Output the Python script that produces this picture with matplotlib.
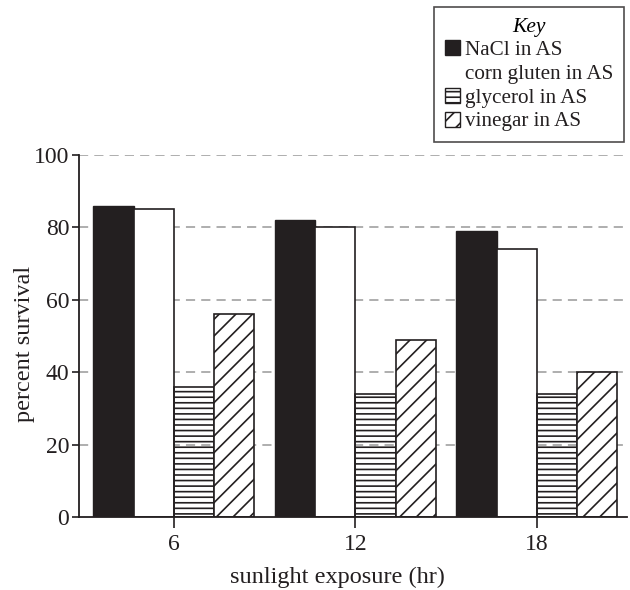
import matplotlib
matplotlib.use('Agg')
import matplotlib.pyplot as plt
from matplotlib.patches import Rectangle
import numpy as np

plt.rcParams['font.family'] = ['Liberation Serif', 'DejaVu Serif']
plt.rcParams['hatch.linewidth'] = 1.2

hours = ['6', '12', '18']
nacl = [86, 82, 79]
corn = [85, 80, 74]
glycerol = [36, 34, 34]
vinegar = [56, 49, 40]

series_names = ['NaCl in AS', 'corn gluten in AS', 'glycerol in AS', 'vinegar in AS']

fig = plt.figure(figsize=(6.3, 5.9), dpi=100)
ax = fig.add_axes([0.1254, 0.1237, 0.8696, 0.6136])

x = np.arange(len(hours))
w = 0.222
ink = '#231f20'

for yv in [20, 40, 60, 80, 100]:
    ax.axhline(yv, color='#999999', lw=1.1, dashes=(6, 4), zorder=0)

ax.bar(x - 1.5 * w, nacl, w, color=ink, edgecolor=ink, lw=1, zorder=2)
ax.bar(x - 0.5 * w, corn, w, color='white', edgecolor=ink, lw=1.2, zorder=2)
ax.bar(x + 0.5 * w, glycerol, w, facecolor='none', edgecolor=ink, hatch='---', lw=1.2, zorder=2)
ax.bar(x + 1.5 * w, vinegar, w, color='white', edgecolor=ink, hatch='//', lw=1.2, zorder=2)

ax.set_xlim(-0.523, 2.496)
ax.set_ylim(0, 100)
ax.set_xticks(x)
ax.set_xticklabels(hours)
ax.set_yticks([0, 20, 40, 60, 80, 100])
ax.tick_params(axis='both', labelsize=17, color=ink, labelcolor=ink, width=1.2)
ax.tick_params(axis='x', length=8, pad=4)
ax.tick_params(axis='y', length=5, pad=2)
for s in ['top', 'right']:
    ax.spines[s].set_visible(False)
for s in ['left', 'bottom']:
    ax.spines[s].set_linewidth(1.3)
    ax.spines[s].set_color(ink)

ax.set_xlabel('sunlight exposure (hr)', fontsize=17.5, color=ink)
ax.set_ylabel('percent survival', fontsize=17.5, color=ink)
ax.xaxis.set_label_coords(0.471, -0.138)
ax.yaxis.set_label_coords(-0.080, 0.479)

handles = [
    Rectangle((0, 0), 1, 1, facecolor=ink, edgecolor=ink),
    Rectangle((0, 0), 1, 1, facecolor='white', edgecolor='white'),
    Rectangle((0, 0), 1, 1, facecolor='white', edgecolor=ink, hatch='---'),
    Rectangle((0, 0), 1, 1, facecolor='white', edgecolor=ink, hatch='//'),
]
leg = fig.legend(handles, series_names, loc='upper right',
                 bbox_to_anchor=(0.9905, 0.988), frameon=True, fancybox=False,
                 edgecolor=ink, fontsize=15.2, title='Key',
                 title_fontproperties={'style': 'italic', 'size': 15.5},
                 handlelength=0.72, handleheight=0.72, handletextpad=0.25,
                 labelspacing=0.18, borderpad=0.5, borderaxespad=0)
leg.get_frame().set_linewidth(1.2)
for t in leg.get_texts():
    t.set_color(ink)

plt.savefig('out.png', dpi=100)
